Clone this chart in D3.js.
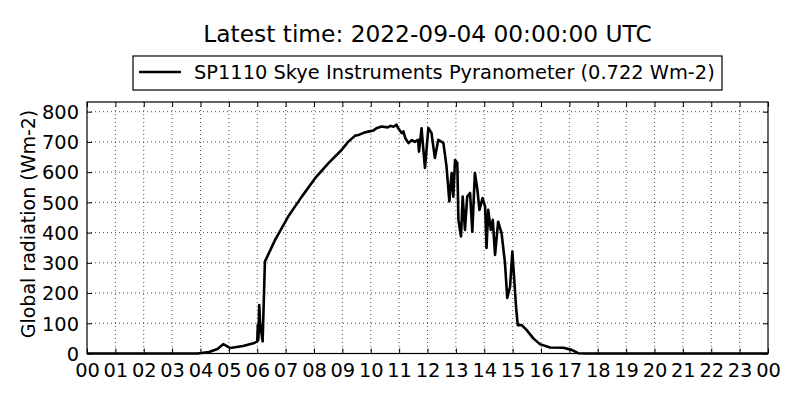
<!DOCTYPE html>
<html><head><meta charset="utf-8">
<script src="https://cdn.jsdelivr.net/npm/d3@7"></script>
<style>body{margin:0;background:#fff;}svg{display:block;font-family:"DejaVu Sans",sans-serif;}</style>
</head><body>
<svg id="c" width="800" height="400"></svg>
<script>
const titleText = "Latest time: 2022-09-04 00:00:00 UTC";
const seriesName = "SP1110 Skye Instruments Pyranometer (0.722 Wm-2)";
const yLabel = "Global radiation (Wm-2)";
const xTickLabels = ["00","01","02","03","04","05","06","07","08","09","10","11","12","13","14","15","16","17","18","19","20","21","22","23","00"];
const yTicks = [0,100,200,300,400,500,600,700,800];
const hours = [0,3.9,4.3,4.6,4.8,5.05,5.5,5.9,6.0,6.02,6.04,6.07,6.1,6.19,6.27,6.63,7.09,7.57,8.04,8.51,8.98,9.2,9.44,9.6,9.75,9.91,10.1,10.2,10.38,10.6,10.7,10.8,10.91,10.95,11.09,11.15,11.22,11.33,11.45,11.55,11.67,11.7,11.79,11.91,12.03,12.14,12.26,12.38,12.56,12.67,12.77,12.85,12.91,12.97,13.05,13.09,13.18,13.24,13.32,13.4,13.5,13.58,13.67,13.76,13.83,13.94,14.03,14.08,14.14,14.23,14.3,14.38,14.49,14.61,14.73,14.81,14.91,14.99,15.05,15.12,15.18,15.32,15.49,15.73,15.96,16.32,16.79,17.08,17.31,17.6,24];
const radiation = [0,0,5,15,31,18,25,35,40,95,45,160,100,40,304,376,453,519,580,630,674,700,720,724,730,734,738,745,751,748,753,750,757,748,729,735,712,696,706,700,707,668,745,614,746,730,647,707,697,619,503,597,519,640,630,442,387,519,409,519,531,403,597,541,475,514,486,349,475,409,442,326,436,398,300,184,221,337,254,155,94,94,78,50,31,20,19,12,1,0,0];

const svg = d3.select("#c");
const L=87, R=768, T=102, B=353.5;
const x = d3.scaleLinear().domain([0,24]).range([L,R]);
const y = d3.scaleLinear().domain([0,832]).range([B,T]);
const xt = d3.range(0,25);

// grid
const g = svg.append("g");
g.selectAll(".gx").data(xt.slice(1,-1)).join("line")
 .attr("x1",d=>x(d)).attr("x2",d=>x(d)).attr("y1",T).attr("y2",B)
 .attr("stroke","#000").attr("stroke-width",0.7).attr("stroke-dasharray","1,3");
g.selectAll(".gy").data(yTicks.slice(1)).join("line")
 .attr("x1",L).attr("x2",R).attr("y1",d=>y(d)).attr("y2",d=>y(d))
 .attr("stroke","#000").attr("stroke-width",0.7).attr("stroke-dasharray","1,3");

// data line
svg.append("path").datum(hours.map((h,i)=>[h,radiation[i]]))
 .attr("fill","none").attr("stroke","#000").attr("stroke-width",2.6).attr("stroke-linejoin","round")
 .attr("d",d3.line().x(d=>x(d[0])).y(d=>y(d[1])));

// axes with inward ticks
const fs = "19.4px";
const ax = svg.append("g").attr("transform",`translate(0,${B})`)
 .call(d3.axisBottom(x).tickValues(xt).tickSize(-5).tickPadding(7).tickFormat((d,i)=>xTickLabels[i]));
const axT = svg.append("g").attr("transform",`translate(0,${T})`)
 .call(d3.axisTop(x).tickValues(xt).tickSize(-5).tickFormat(""));
const ay = svg.append("g").attr("transform",`translate(${L},0)`)
 .call(d3.axisLeft(y).tickValues(yTicks).tickSize(-5).tickPadding(8));
const ayR = svg.append("g").attr("transform",`translate(${R},0)`)
 .call(d3.axisRight(y).tickValues(yTicks).tickSize(-5).tickFormat(""));
[ax,axT,ay,ayR].forEach(a=>{a.select(".domain").remove();a.selectAll("line").attr("stroke","#000");
 a.selectAll("text").attr("font-size",fs).attr("font-family","DejaVu Sans").attr("fill","#000");});
ax.selectAll("text").attr("dy","0.85em");
ay.selectAll("text").attr("dy","0.35em");

svg.append("rect").attr("x",L).attr("y",T).attr("width",R-L).attr("height",B-T)
 .attr("fill","none").attr("stroke","#000").attr("stroke-width",1.2);

// title
svg.append("text").attr("x",(L+R)/2).attr("y",42).attr("text-anchor","middle")
 .attr("font-size","23.3px").text(titleText);

// legend
const lg = svg.append("g");
lg.append("rect").attr("x",133).attr("y",56).attr("width",589).attr("height",34)
 .attr("fill","#fff").attr("stroke","#000").attr("stroke-width",1.2);
lg.append("line").attr("x1",139).attr("x2",181).attr("y1",72).attr("y2",72)
 .attr("stroke","#000").attr("stroke-width",2.6);
lg.append("text").attr("x",194).attr("y",79).attr("font-size",fs).text(seriesName);

// y label
svg.append("text").attr("transform",`translate(35,224) rotate(-90)`)
 .attr("text-anchor","middle").attr("font-size","19px").text(yLabel);
</script>
</body></html>
